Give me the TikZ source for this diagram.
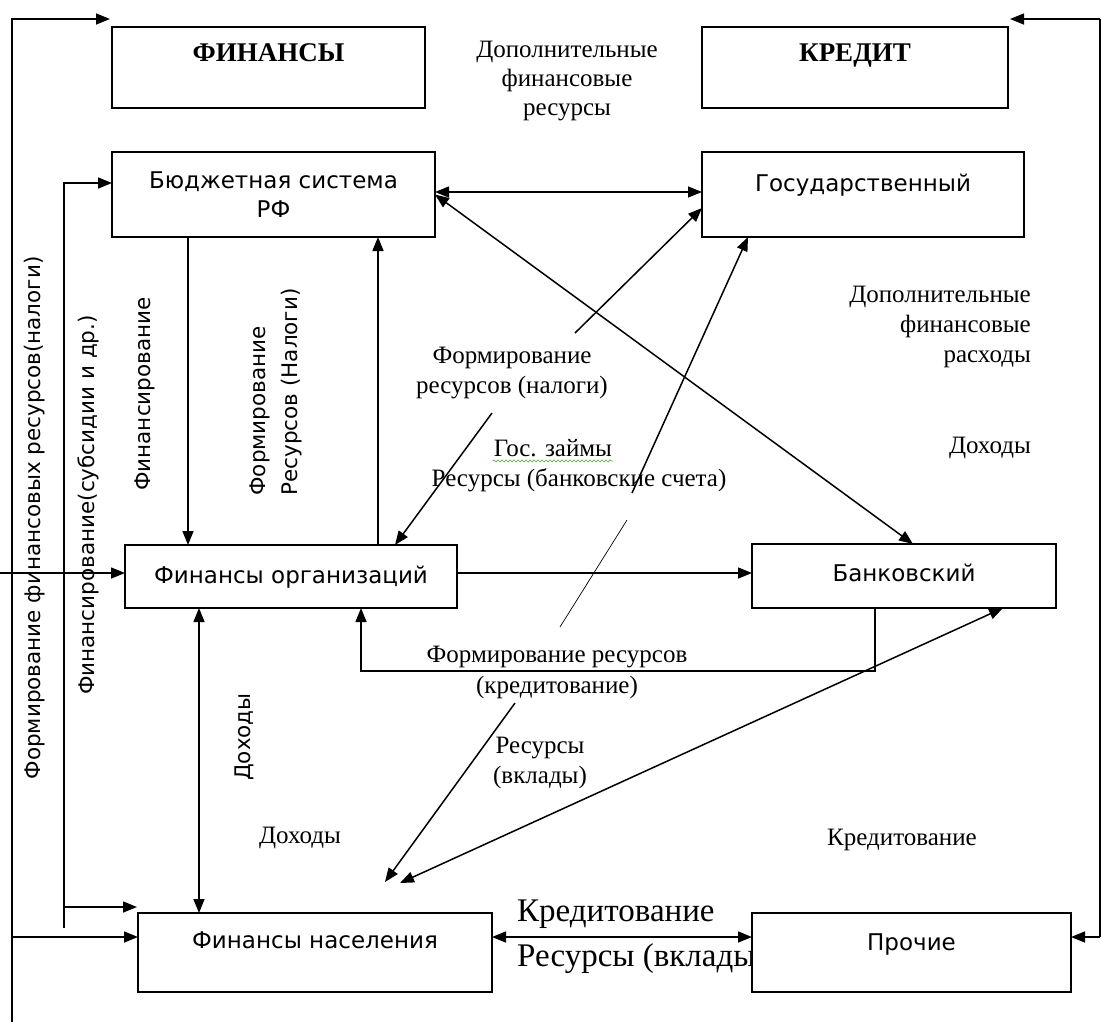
\documentclass[tikz,border=0pt]{standalone}
\usepackage{fontspec}
\setmainfont{Liberation Serif}
\newfontfamily\sansf{DejaVu Sans}
\usetikzlibrary{arrows.meta,decorations.pathmorphing}
\definecolor{spell}{RGB}{120,180,100}
\begin{document}
\begin{tikzpicture}[x=1pt,y=-1pt,
  box/.style={draw, line width=1.5pt, inner sep=0pt, outer sep=0pt, fill=white, align=center, font=\sansf\fontsize{23}{29}\selectfont},
  bigbox/.style={box, font=\fontsize{27}{31}\selectfont\bfseries},
  arr/.style={line width=1.5pt, -{Triangle[length=14pt,width=11pt]}},
  darr/.style={line width=1.5pt, {Triangle[length=14pt,width=11pt]}-{Triangle[length=14pt,width=11pt]}},
  ln/.style={line width=1.5pt},
  thin/.style={line width=0.7pt},
  lbl/.style={inner sep=1pt, align=center, font=\fontsize{25}{30}\selectfont},
  vlbl/.style={inner sep=1pt, rotate=90, font=\sansf\fontsize{21.5}{32}\selectfont}
]
\useasboundingbox (0,0) rectangle (1101,1026);
\fill[white] (0,0) rectangle (1101,1026);

% boxes
\node[bigbox, minimum width=313pt, minimum height=81pt, text height=20pt, text depth=33pt] (fin) at (268.5,67.5) {ФИНАНСЫ};
\node[bigbox, minimum width=306pt, minimum height=81pt, text height=20pt, text depth=33pt] (kred) at (855,67.5) {КРЕДИТ};
\node[box, minimum width=323pt, minimum height=85pt] (bud) at (273.5,194.5) {Бюджетная система\\РФ};
\node[box, minimum width=322pt, minimum height=85pt, text height=20pt, text depth=27pt] (gos) at (863,194.5) {Государственный};
\node[box, minimum width=332pt, minimum height=63pt, text height=20pt, text depth=7pt] (forg) at (291,576.5) {Финансы организаций};
\node[box, minimum width=304pt, minimum height=64pt, text height=20pt, text depth=10pt] (bank) at (904,576) {Банковский};
\node[box, minimum width=354pt, minimum height=79pt, text height=20pt, text depth=29pt] (nas) at (315,952.5) {Финансы населения};
\node[lbl, anchor=west, align=left, font=\fontsize{33}{45}\selectfont] (kvl) at (516,937) {Кредитование\\Ресурсы (вклады)};
\node[box, minimum width=319pt, minimum height=79pt, text height=20pt, text depth=25pt] (proch) at (911.5,952.5) {Прочие};

% free ends
\coordinate (lt) at (12,1022);
\coordinate (lin) at (0,573);
\coordinate (lnas) at (12,937);
\coordinate (ibot) at (64,928);
\coordinate (inas) at (64,907);
\coordinate (rtop) at (1100,19);
\coordinate (rbot) at (1100,937);
\coordinate (fnup) at (575,333);
\coordinate (fndn) at (492,413);
\coordinate (rbsup) at (632,493);
\coordinate (rbsa) at (627,520);
\coordinate (rbsb) at (560,627);
\coordinate (rvtop) at (515,703);

% left loops
\draw[arr] (lt) |- ([xshift=-2pt,yshift=8pt]fin.north west);
\draw[arr] (lin) -- ([yshift=3.5pt]forg.west);
\draw[arr] (lnas) -- ([yshift=15.5pt]nas.west);
\draw[arr] (ibot) |- ([yshift=11.5pt]bud.west);
\draw[arr] (inas) -- ([xshift=-1pt,yshift=6pt]nas.north west);

% right side
\draw[ln] (rbot) -- (rtop);
\draw[arr] (rtop) -- ([xshift=2pt,yshift=8pt]kred.north east);
\draw[arr] (rbot) -- ([yshift=15.5pt]proch.east);

% main connectors
\draw[darr] ([yshift=2.5pt]bud.east) -- ([yshift=2.5pt]gos.west);
\draw[arr] (fnup) -- ([yshift=-13.5pt]gos.west);
\draw[arr] (fndn) -- ([xshift=270pt]forg.north west);
\draw[darr] (bud.east) -- ([xshift=161pt]bank.north west);
\draw[arr] (rbsup) -- ([xshift=46pt]gos.south west);
\draw[thin] (rbsa) -- (rbsb);
\draw[arr] ([xshift=76pt]bud.south west) -- ([xshift=63pt]forg.north west);
\draw[arr] ([xshift=253pt]forg.north west) -- ([xshift=266pt]bud.south west);
\draw[arr] ([yshift=3.5pt]forg.east) -- ([yshift=3pt]bank.west);
\draw[arr] ([xshift=123pt]bank.south west) -- ++(0,63) -| ([xshift=236pt]forg.south west);
\draw[darr] ([xshift=74pt]forg.south west) -- ([xshift=61pt]nas.north west);
\draw[arr] (rvtop) -- ([xshift=247pt,yshift=31pt]nas.north west);
\draw[darr] ([xshift=262pt,yshift=30pt]nas.north west) -- ([xshift=251pt]bank.south west);
\draw[darr] ([yshift=15.5pt]nas.east) -- ([yshift=15.5pt]proch.west);

% labels
\node[lbl, font=\fontsize{25}{29}\selectfont] (dopres) at (567,81) {Дополнительные\\финансовые\\ресурсы};
\node[lbl] (fnal) at (512,373) {Формирование\\ресурсов (налоги)};
\node[lbl] (gz) at (553,448) {Гос. займы};
\draw[spell, line width=0.8pt, decorate, decoration={snake, amplitude=1pt, segment length=4pt}] ([yshift=-3pt]gz.south west) -- ([yshift=-3pt]gz.south east);
\node[lbl] (rbs) at (579,480) {Ресурсы (банковские счета)};
\node[lbl, anchor=east, align=right] (dfr) at (1032,327) {Дополнительные\\финансовые\hspace*{17pt}\\расходы};
\node[lbl, anchor=east] (doh1) at (1032,448) {Доходы};
\node[lbl, font=\fontsize{25}{31}\selectfont] (fk) at (557,672) {Формирование ресурсов\\(кредитование)};
\node[lbl] (rv) at (540,763) {Ресурсы\\(вклады)};
\node[lbl] (doh2) at (300,838) {Доходы};
\node[lbl] (kr2) at (902,840) {Кредитование};

\node[vlbl] (vl1) at (35,518) {Формирование финансовых ресурсов(налоги)};
\node[vlbl] (vl2) at (88,505) {Финансирование(субсидии и др.)};
\node[vlbl] (vl3) at (145,394) {Финансирование};
\node[vlbl, align=left] (vl4) at (276,392) {Формирование\\Ресурсов (Налоги)};
\node[vlbl] (vl5) at (244,737) {Доходы};
\end{tikzpicture}
\end{document}
